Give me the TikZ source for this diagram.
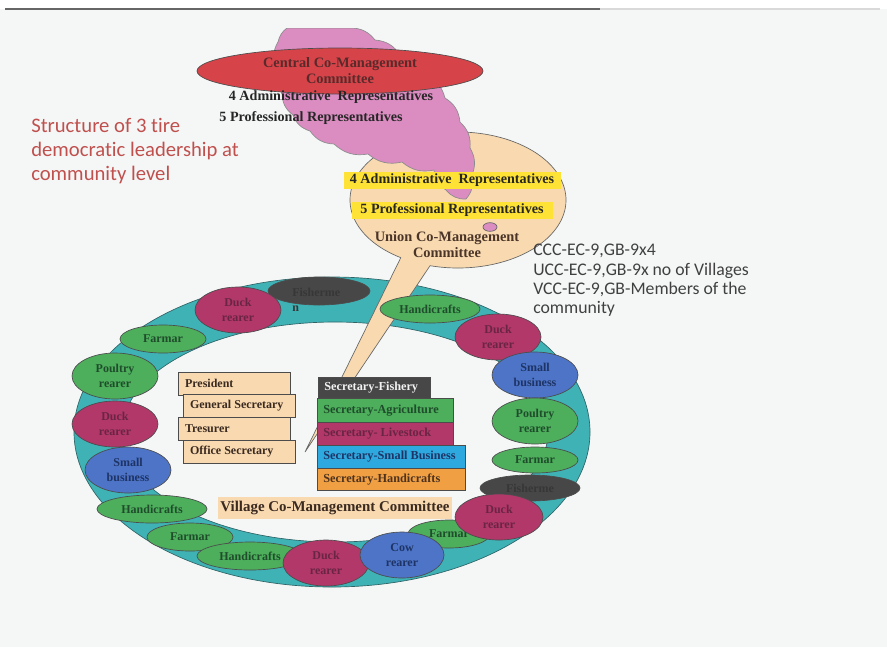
\documentclass[tikz,border=0pt]{standalone}
\usepackage{fontspec}
\setmainfont{Liberation Serif}
\newfontfamily\calib[Ligatures=NoCommon]{Carlito}
\usetikzlibrary{shapes.geometric}
\definecolor{bg}{HTML}{F5F7F7}
\definecolor{teal1}{HTML}{3FB2B6}
\definecolor{ringline}{HTML}{2F6466}
\definecolor{pinkc}{HTML}{DB8DC2}
\definecolor{redc}{HTML}{D6444A}
\definecolor{beige}{HTML}{F8D9B0}
\definecolor{yell}{HTML}{FFE236}
\definecolor{grn}{HTML}{4DAE5C}
\definecolor{mag}{HTML}{B2386A}
\definecolor{blu}{HTML}{4D74C6}
\definecolor{dgry}{HTML}{474747}
\definecolor{sky}{HTML}{2EA9DF}
\definecolor{orng}{HTML}{F0A043}
\definecolor{titlered}{HTML}{C0504D}
\definecolor{gtxt}{HTML}{1F4D2B}
\definecolor{mtxt}{HTML}{6A2545}
\definecolor{btxt}{HTML}{1E3466}
\definecolor{ktxt}{HTML}{373737}
\definecolor{ltxt}{HTML}{3A2A20}
\definecolor{redtxt}{HTML}{5A2A2A}
\definecolor{utxt}{HTML}{4A3528}
\begin{document}
\begin{tikzpicture}[x=0.75pt,y=-0.75pt,
  ell/.style={ellipse, draw=black!70, line width=0.5pt, inner sep=0pt, align=center,
    font=\fontsize{9}{11.25}\selectfont\bfseries},
  sz/.style 2 args={minimum width=#1*1.5pt, minimum height=#2*1.5pt},
  gell/.style={ell, fill=grn, text=gtxt},
  mell/.style={ell, fill=mag, text=mtxt},
  bell/.style={ell, fill=blu, text=btxt},
  kell/.style={ell, fill=dgry, text=ktxt},
  lbox/.style={draw=black!70, line width=0.5pt, fill=beige, anchor=north west,
    minimum height=17pt, inner xsep=5pt, inner ysep=0pt,
    font=\fontsize{9}{11}\selectfont\bfseries, text=ltxt},
  sbox/.style={draw=black!70, line width=0.5pt, anchor=north west,
    inner xsep=4.5pt, inner ysep=0pt, font=\fontsize{9.2}{11}\selectfont\bfseries},
  bodytxt/.style={inner sep=0pt, font=\fontsize{10.6}{12}\selectfont\bfseries},
  bmp/.style={bend left=26}
]
\useasboundingbox (0,0) rectangle (887,647);
\fill[bg] (0,0) rectangle (887,647);
\fill[white] (0,0) rectangle (887,9);
\draw[black!60, line width=0.8pt] (5,9) -- (600,9);
\draw[black!15, line width=0.8pt] (600,9) -- (880,9);

% ring
\path[fill=teal1, draw=ringline, line width=0.5pt, even odd rule]
  (332,432) ellipse[x radius=258, y radius=155]
  (335,432) ellipse[x radius=213, y radius=110];

% union bubble with tail
\path[fill=beige, draw=black!60, line width=0.5pt]
  (458,200) ++(122:108 and 68)
  arc[start angle=122, end angle=465, x radius=108, y radius=68]
  -- (305,452) -- cycle;

% pink cloud
\begin{scope}
\clip (0,28.5) rectangle (887,647);
\path[fill=pinkc, draw=black!45, line width=0.5pt]
  (287,28) -- (350,28) to[bmp] (375,40) to[bmp] (400,55)
  to[bmp] (425,75) to[bmp] (445,98) to[bmp] (460,122)
  to[bmp] (470,148) to[bmp] (472,175) to[bmp] (466,199) to[bmp] (446,190)
  to[bmp] (434,170) to[bmp] (402,162) to[bmp] (368,154)
  to[bmp] (334,144) to[bmp] (310,131) to[bmp] (293,115)
  to[bmp] (282,93) to[bmp] (276,66) to[bmp] (278,42) to[bend left=20] (287,28) -- cycle;
\end{scope}
\node[ellipse, fill=pinkc, draw=black!60, line width=0.5pt, minimum width=10.5pt,
  minimum height=6.5pt, inner sep=0pt] (pk) at (490,227) {};

% central committee
\node[ellipse, fill=redc, draw=black!70, line width=0.5pt, minimum width=214.5pt,
  minimum height=34.5pt, inner sep=0pt, align=center, text=redtxt,
  font=\fontsize{10.8}{12}\selectfont\bfseries] (ccc) at (340,71)
  {Central Co-Management\\Committee};
\node[bodytxt, text=black!85] (cadm) at (331,97) {4 Administrative\ \ Representatives};
\node[bodytxt, text=black!85] (cpro) at (311,118) {5 Professional Representatives};

% union committee
\node[fill=yell, minimum width=162.75pt, minimum height=12.75pt, bodytxt, text=black!85]
  (uadm) at (452,180) {4 Administrative\ \ Representatives};
\node[fill=yell, minimum width=150.75pt, minimum height=12.75pt, bodytxt, text=black!85]
  (upro) at (452,210) {5 Professional Representatives};
\node[align=center, inner sep=0pt, text=utxt, font=\fontsize{10.8}{12}\selectfont\bfseries]
  (ucc) at (447,245) {Union Co-Management\\Committee};

% texts
\node[anchor=north west, align=left, inner sep=0pt, text=titlered,
  font=\calib\fontsize{15.5}{18}\selectfont] (title) at (31,118)
  {Structure of 3 t\kern0pt ire\\democratic leadership at\\community level};
\node[anchor=north west, align=left, inner sep=0pt, text=black!75,
  font=\calib\fontsize{13.3}{14.5}\selectfont] (info) at (533,244)
  {CCC-EC-9,GB-9x4\\UCC-EC-9,GB-9x no of Villages\\VCC-EC-9,GB-Members of the\\community};

% ring members
\node[kell, sz={51}{14}] (f1) at (319,291) {};
\node[anchor=west, align=left, inner sep=0pt, text=ktxt,
  font=\fontsize{9}{11.25}\selectfont\bfseries] (f1t) at (292,300) {Fisherme\\n};
\node[mell, sz={43}{23}] (d1) at (238,310) {Duck\\rearer};
\node[gell, sz={43}{14}] (fa1) at (163,339) {Farmar};
\node[gell, sz={43}{23}] (p1) at (115,376) {Poultry\\rearer};
\node[mell, sz={43}{23}] (d2) at (115,424) {Duck\\rearer};
\node[bell, sz={43}{23}] (sb1) at (128,470) {Small\\business};
\node[gell, sz={43}{14}] (fa2) at (190,537) {Farmar};
\node[gell, sz={55}{14}] (h1) at (152,509) {Handicrafts};
\node[gell, sz={53}{14}] (h3) at (250,556) {Handicrafts};
\node[mell, sz={43}{23}] (d5) at (326,563) {Duck\\rearer};
\node[gell, sz={41}{14}] (fa3) at (449,534) {Farmar};
\node[bell, sz={42}{23}] (c1) at (402,555) {Cow\\rearer};
\node[gell, sz={50}{14}] (h2) at (430,309) {Handicrafts};
\node[mell, sz={43}{23}] (d3) at (498,337) {Duck\\rearer};
\node[bell, sz={43}{23}] (sb2) at (535,375) {Small\\business};
\node[gell, sz={43}{23}] (p2) at (535,421) {Poultry\\rearer};
\node[gell, sz={43}{13}] (fa4) at (535,460) {Farmar};
\node[kell, sz={50}{13}] (k2) at (530,488) {Fisherme};
\node[mell, sz={44}{23}] (d4) at (499,517) {Duck\\rearer};

% executive committee boxes
\node[lbox] (pres) at (178,372) {\makebox[74pt][l]{President}};
\node[lbox] (gsec) at (183,394) {\makebox[74pt][l]{General Secretary}};
\node[lbox] (tres) at (178,417) {\makebox[74pt][l]{Tresurer}};
\node[lbox] (osec) at (183,440) {\makebox[74pt][l]{Office Secretary}};

\node[sbox, fill=dgry, text=black!5, minimum height=15.75pt] (sfis) at (318,377)
  {\makebox[75pt][l]{Secretary-Fishery}};
\node[sbox, fill=grn, text=gtxt, minimum height=18pt] (sagr) at (317,398)
  {\makebox[93pt][l]{Secretary-Agriculture}};
\node[sbox, fill=mag, text=mtxt, minimum height=17.25pt] (sliv) at (317,422)
  {\makebox[93pt][l]{Secretary- Livestock}};
\node[sbox, fill=sky, text=btxt, minimum height=17.25pt] (ssmb) at (317,445)
  {\makebox[102pt][l]{Secretary-Small Business}};
\node[sbox, fill=orng, text=ltxt!90!orange, minimum height=16.5pt] (shan) at (317,468)
  {\makebox[102pt][l]{Secretary-Handicrafts}};

\node[fill=beige, inner xsep=2pt, inner ysep=3pt, text=ltxt,
  font=\fontsize{11.2}{13}\selectfont\bfseries] (vcc) at (335,508)
  {Village Co-Management Committee};
\end{tikzpicture}
\end{document}
